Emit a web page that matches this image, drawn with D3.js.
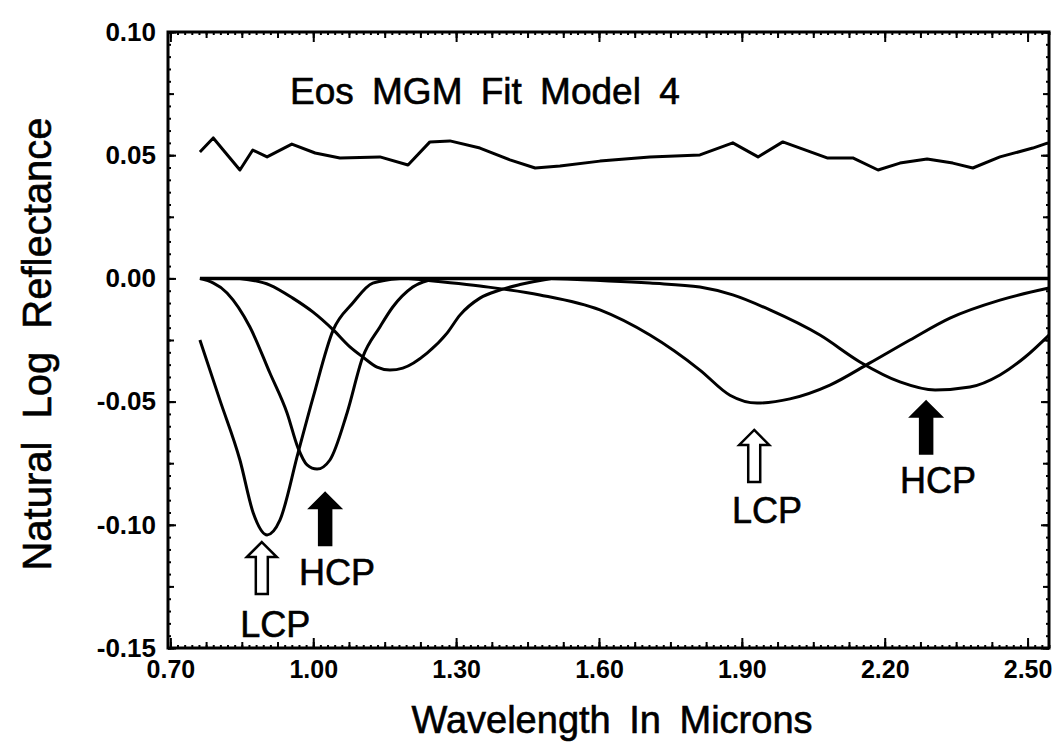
<!DOCTYPE html>
<html>
<head>
<meta charset="utf-8">
<script src="https://cdn.jsdelivr.net/npm/d3@7"></script>
<style>
  body { margin: 0; background: #fff; }
  text { font-family: "Liberation Sans", Arial, sans-serif; fill: #000; }
</style>
</head>
<body>
<script>
// Values (wavelength in microns, natural log reflectance)
var residualWl = [0.762, 0.790, 0.846, 0.873, 0.903, 0.955, 1.004, 1.056, 1.140, 1.199, 1.245, 1.287, 1.350, 1.413, 1.466, 1.518, 1.602, 1.707, 1.812, 1.881, 1.934, 1.986, 2.079, 2.133, 2.186, 2.232, 2.289, 2.343, 2.385, 2.442, 2.511, 2.543];
var residualVal = [0.0513, 0.0570, 0.0440, 0.0521, 0.0493, 0.0545, 0.0509, 0.0489, 0.0493, 0.0460, 0.0554, 0.0558, 0.0529, 0.0481, 0.0448, 0.0456, 0.0476, 0.0493, 0.0501, 0.0550, 0.0493, 0.0554, 0.0489, 0.0489, 0.0440, 0.0468, 0.0485, 0.0468, 0.0448, 0.0493, 0.0529, 0.0550];

var zeroWl = [0.762, 2.545];
var zeroVal = [0, 0];

var lcp1Wl = [0.762, 0.804, 0.846, 0.874, 0.903, 0.930, 0.968, 1.000, 1.042, 1.083, 1.125, 1.182];
var lcp1Val = [-0.0250, -0.0494, -0.0737, -0.0952, -0.1041, -0.0981, -0.0709, -0.0481, -0.0209, -0.0100, -0.0019, 0];

var hcp1Wl = [0.762, 0.819, 0.867, 0.909, 0.945, 0.968, 0.987, 1.008, 1.035, 1.071, 1.104, 1.140, 1.167, 1.209, 1.260];
var hcp1Val = [0, -0.0059, -0.0197, -0.0384, -0.0546, -0.0688, -0.0757, -0.0774, -0.0737, -0.0546, -0.0319, -0.0197, -0.0116, -0.0035, 0];

var band12Wl = [0.846, 0.909, 0.957, 0.999, 1.042, 1.077, 1.104, 1.134, 1.161, 1.188, 1.239, 1.281, 1.308, 1.350, 1.392, 1.434, 1.500];
var band12Val = [0, -0.0027, -0.0080, -0.0136, -0.0209, -0.0278, -0.0319, -0.0360, -0.0372, -0.0364, -0.0303, -0.0222, -0.0149, -0.0080, -0.0047, -0.0025, 0];

var lcp2Wl = [1.200, 1.350, 1.476, 1.602, 1.707, 1.812, 1.875, 1.932, 2.001, 2.085, 2.169, 2.253, 2.337, 2.442, 2.545];
var lcp2Val = [0, -0.0031, -0.0067, -0.0128, -0.0230, -0.0372, -0.0474, -0.0506, -0.0489, -0.0433, -0.0343, -0.0250, -0.0161, -0.0088, -0.0039];

var hcp2Wl = [1.500, 1.707, 1.812, 1.881, 1.959, 2.064, 2.148, 2.232, 2.306, 2.379, 2.442, 2.495, 2.545];
var hcp2Val = [0, -0.0019, -0.0035, -0.0067, -0.0128, -0.0230, -0.0339, -0.0420, -0.0453, -0.0441, -0.0392, -0.0319, -0.0230];

var xTicks = [0.70, 1.00, 1.30, 1.60, 1.90, 2.20, 2.50];
var xTickLabels = ["0.70", "1.00", "1.30", "1.60", "1.90", "2.20", "2.50"];
var yTicks = [0.10, 0.05, 0.00, -0.05, -0.10, -0.15];
var yTickLabels = ["0.10", "0.05", "0.00", "-0.05", "-0.10", "-0.15"];

// band annotations: arrow tip, arrow type and label
var noteText = ["LCP", "HCP", "LCP", "HCP"];
var noteFilled = [false, true, false, true];
var noteArrowWl = [0.892, 1.025, 1.926, 2.287];
var noteArrowVal = [-0.107, -0.0871, -0.0615, -0.0500];
var noteLabelWl = [0.920, 1.050, 1.953, 2.312];
var noteLabelVal = [-0.1455, -0.1244, -0.0993, -0.0871];

var titleText = "Eos MGM Fit Model 4";

var W = 1059, H = 749;
var margin = {top: 32, right: 10, bottom: 101, left: 168};
var width = W - margin.left - margin.right;
var height = H - margin.top - margin.bottom;

var svg = d3.select("body").append("svg")
    .attr("width", W)
    .attr("height", H);

var g = svg.append("g")
    .attr("transform", "translate(" + margin.left + "," + margin.top + ")");

var x = d3.scaleLinear().domain([0.695, 2.545]).range([0, width]);
var y = d3.scaleLinear().domain([-0.15, 0.10]).range([height, 0]);

function pts(wl, val) {
    return wl.map(function(d, i) { return [d, val[i]]; });
}

// minor and medium ticks, pointing inward on all four sides
var xMinor = d3.range(0.70, 2.5451, 0.015);
var xMid = d3.range(0.70, 2.5451, 0.075);
var yMinor = d3.range(-0.15, 0.1001, 0.005);
var yMid = d3.range(-0.15, 0.1001, 0.025);

function tickAxis(axisFn, scale, values, size, tx) {
    var a = g.append("g")
        .attr("transform", tx)
        .call(axisFn(scale).tickValues(values).tickSize(size).tickFormat(""));
    a.select(".domain").remove();
    a.selectAll("line").attr("stroke", "#000").attr("stroke-width", 2);
    return a;
}

tickAxis(d3.axisBottom, x, xMinor, -3, "translate(0," + height + ")");
tickAxis(d3.axisBottom, x, xMid, -6, "translate(0," + height + ")");
tickAxis(d3.axisTop, x, xMinor, -3, "translate(0,0)");
tickAxis(d3.axisTop, x, xMid, -6, "translate(0,0)");
tickAxis(d3.axisLeft, y, yMinor, -3, "translate(0,0)");
tickAxis(d3.axisLeft, y, yMid, -6, "translate(0,0)");
tickAxis(d3.axisRight, y, yMinor, -3, "translate(" + width + ",0)");
tickAxis(d3.axisRight, y, yMid, -6, "translate(" + width + ",0)");
tickAxis(d3.axisTop, x, xTicks, -10, "translate(0,0)");
tickAxis(d3.axisRight, y, yTicks, -8, "translate(" + width + ",0)");

// labelled axes
var xAxis = g.append("g")
    .attr("transform", "translate(0," + height + ")")
    .call(d3.axisBottom(x).tickValues(xTicks).tickSize(-10).tickPadding(12)
        .tickFormat(function(d, i) { return xTickLabels[i]; }));
xAxis.select(".domain").remove();
xAxis.selectAll("line").attr("stroke", "#000").attr("stroke-width", 2);
xAxis.selectAll("text")
    .attr("font-size", 25).attr("font-weight", "bold")
    .style("font-family", "'Liberation Sans', Arial, sans-serif");

var yAxis = g.append("g")
    .call(d3.axisLeft(y).tickValues(yTicks).tickSize(-8).tickPadding(12)
        .tickFormat(function(d, i) { return yTickLabels[i]; }));
yAxis.select(".domain").remove();
yAxis.selectAll("line").attr("stroke", "#000").attr("stroke-width", 2);
yAxis.selectAll("text")
    .attr("font-size", 26).attr("font-weight", "bold")
    .style("font-family", "'Liberation Sans', Arial, sans-serif");

// frame
g.append("rect")
    .attr("width", width).attr("height", height)
    .attr("fill", "none").attr("stroke", "#000").attr("stroke-width", 3);

var line = d3.line()
    .x(function(d) { return x(d[0]); })
    .y(function(d) { return y(d[1]); });

var smooth = d3.line()
    .curve(d3.curveMonotoneX)
    .x(function(d) { return x(d[0]); })
    .y(function(d) { return y(d[1]); });

g.append("path").datum(pts(residualWl, residualVal))
    .attr("d", line).attr("fill", "none").attr("stroke", "#000").attr("stroke-width", 3)
    .attr("stroke-linejoin", "round");

var bands = [pts(lcp1Wl, lcp1Val), pts(hcp1Wl, hcp1Val), pts(band12Wl, band12Val),
             pts(lcp2Wl, lcp2Val), pts(hcp2Wl, hcp2Val)];
g.selectAll(".band").data(bands).enter().append("path")
    .attr("class", "band")
    .attr("d", smooth)
    .attr("fill", "none").attr("stroke", "#000").attr("stroke-width", 3);

g.append("path").datum(pts(zeroWl, zeroVal))
    .attr("d", line).attr("fill", "none").attr("stroke", "#000").attr("stroke-width", 3.5);

// arrows: tip at (0,0), pointing up
var arrowPath = "M0,0 L15,15 L6,15 L6,52 L-6,52 L-6,15 L-15,15 Z";
g.selectAll(".arrow").data(noteText).enter().append("path")
    .attr("class", "arrow")
    .attr("d", arrowPath)
    .attr("transform", function(d, i) {
        return "translate(" + x(noteArrowWl[i]) + "," + y(noteArrowVal[i]) + ")";
    })
    .attr("fill", function(d, i) { return noteFilled[i] ? "#000" : "#fff"; })
    .attr("stroke", "#000").attr("stroke-width", 2.5).attr("stroke-linejoin", "miter");

g.selectAll(".note").data(noteText).enter().append("text")
    .attr("class", "note")
    .attr("x", function(d, i) { return x(noteLabelWl[i]); })
    .attr("y", function(d, i) { return y(noteLabelVal[i]); })
    .attr("text-anchor", "middle")
    .attr("font-size", 36)
    .attr("stroke", "#000").attr("stroke-width", 0.6)
    .text(function(d) { return d; });

svg.append("text")
    .attr("x", 290).attr("y", 104)
    .attr("font-size", 37)
    .attr("word-spacing", 8)
    .attr("stroke", "#000").attr("stroke-width", 0.6)
    .text(titleText);

svg.append("text")
    .attr("x", 612).attr("y", 733)
    .attr("text-anchor", "middle")
    .attr("font-size", 38)
    .attr("word-spacing", 8)
    .attr("stroke", "#000").attr("stroke-width", 0.6)
    .text("Wavelength In Microns");

svg.append("text")
    .attr("transform", "translate(51,344) rotate(-90)")
    .attr("text-anchor", "middle")
    .attr("font-size", 40)
    .attr("word-spacing", 12)
    .attr("stroke", "#000").attr("stroke-width", 0.6)
    .text("Natural Log Reflectance");
</script>
</body>
</html>
